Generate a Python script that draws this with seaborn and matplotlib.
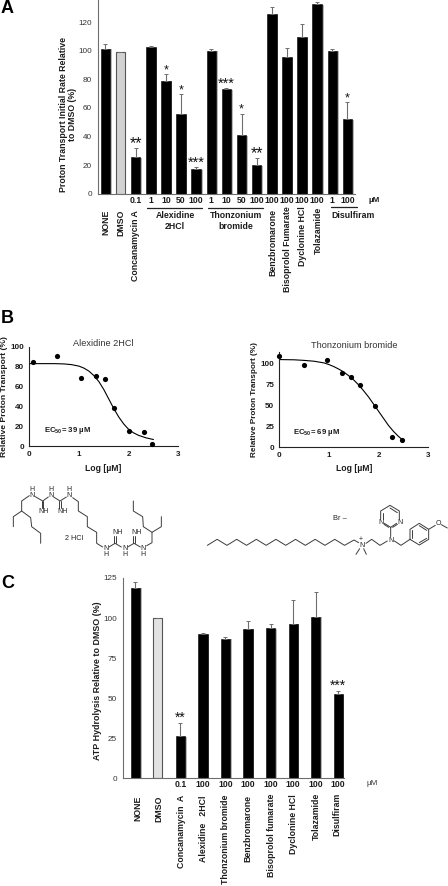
import numpy as np
import matplotlib
matplotlib.use('Agg')
import matplotlib.pyplot as plt
import matplotlib.patheffects as pe
import seaborn as sns

W, H = 448, 886

# Panel A data
a_names = ['NONE', 'DMSO', 'Conc 0.1', 'Alex 1', 'Alex 10', 'Alex 50', 'Alex 100', 'Thon 1', 'Thon 10',
           'Thon 50', 'Thon 100', 'Benz 100', 'Biso 100', 'Dycl 100', 'Tola 100', 'Disu 1', 'Disu 100']
a_values = [101.5, 99.5, 25.5, 102.5, 79, 55.5, 17, 100, 73.3, 41, 20, 125.5, 95.5, 109.5, 132.5, 100, 52]
a_tops = [105, 99.5, 32, 103.5, 83.5, 69.5, 18.5, 101, 73.7, 56, 25, 131, 102, 119, 134, 101, 64]
a_doses = ['', '', '0.1', '1', '10', '50', '100', '1', '10', '50', '100', '100', '100', '100', '100', '1', '100']
a_stars = ['', '', '**', '', '*', '*', '***', '', '***', '*', '**', '', '', '', '', '', '*']
a_yticks = [0, 20, 40, 60, 80, 100, 120]

# Panel B data
alex_x = [0.07, 0.56, 1.04, 1.34, 1.52, 1.7, 2.0, 2.3, 2.48]
alex_y = [84.5, 91, 68.5, 70.5, 68, 38, 15, 14.5, 2.5]
alex_fit_x = [0.0, 0.3, 0.5, 0.7, 0.85, 1.0, 1.1, 1.2, 1.3, 1.4, 1.5, 1.6, 1.7, 1.8, 1.9, 2.0, 2.1, 2.2, 2.35, 2.5]
alex_fit_y = [83, 83, 83, 82.7, 82, 80.5, 78.5, 75.5, 71, 65, 57, 47.5, 38, 29.5, 22.5, 17, 13.5, 11, 8.5, 6.8]
thon_x = [0.0, 0.49, 0.97, 1.26, 1.45, 1.63, 1.92, 2.27, 2.47]
thon_y = [109, 99, 105, 88.5, 84, 75, 49.5, 12, 9]
thon_fit_x = [0.0, 0.3, 0.5, 0.7, 0.9, 1.0, 1.1, 1.2, 1.3, 1.4, 1.5, 1.6, 1.7, 1.8, 1.9, 2.0, 2.1, 2.2, 2.3, 2.4, 2.5]
thon_fit_y = [105, 104.7, 104, 103, 101, 99, 96.5, 93.5, 90, 85.5, 80.5, 74.5, 67.5, 60, 51.5, 43, 34.5, 26, 19, 13, 8]

# Panel C data
c_names = ['NONE', 'DMSO', 'Concanamycin  A', 'Alexidine  2HCl', 'Thonzonium bromide', 'Benzbromarone',
           'Bisoprolol fumarate', 'Dyclonine HCl', 'Tolazamide', 'Disulfiram']
c_values = [119, 100, 26.2, 89.8, 87, 93.4, 93.6, 96.5, 100.9, 52.4]
c_tops = [122.5, 100, 34.5, 90.7, 88, 98, 96, 111, 116.5, 54.3]
c_doses = ['', '', '0.1', '100', '100', '100', '100', '100', '100', '100']
c_stars = ['', '', '**', '', '', '', '', '', '', '***']
c_yticks = [0, 25, 50, 75, 100, 125]

sns.set_theme(style='white')
plt.rcParams['font.family'] = ['Liberation Sans', 'DejaVu Sans']
plt.rcParams['mathtext.fontset'] = 'custom'
plt.rcParams['mathtext.bf'] = 'Liberation Sans:bold'

DARK = '#333333'
GRAY = '#6e6e6e'
BOLD = dict(fontweight='bold', color='#1c1c1c')

fig = plt.figure(figsize=(W / 100, H / 100), dpi=100)


def px_axes(left, top, right, bottom):
    return fig.add_axes([left / W, 1 - bottom / H, (right - left) / W, (bottom - top) / H])


# overlay in pixel coordinates for the labels and drawings round the plots
ov = fig.add_axes([0, 0, 1, 1], zorder=5)
ov.set_xlim(0, W)
ov.set_ylim(H, 0)
ov.axis('off')
ov.patch.set_alpha(0)


def bars(ax, names, values, tops, doses, stars, yticks, width, dmso_color, star_off, star_sizes):
    colors = ['black'] * len(names)
    colors[1] = dmso_color
    sns.barplot(x=names, y=values, hue=names, palette=colors, legend=False, width=width, saturation=1,
                edgecolor='black', linewidth=0.4, ax=ax)
    ax.patches[1].set_edgecolor('#555555')
    ax.patches[1].set_linewidth(0.8)
    for i, p in enumerate(ax.patches):
        if i != 1:
            p.set_path_effects([pe.SimplePatchShadow(offset=(1.2, -0.4), shadow_rgbFace='#999999', alpha=0.7),
                                pe.Normal()])
    up = np.array(tops) - np.array(values)
    ax.errorbar(range(len(names)), values, yerr=[np.zeros(len(up)), up], fmt='none', ecolor=GRAY, elinewidth=0.8,
                capsize=1.4, capthick=0.7, zorder=1)
    for i, s in enumerate(stars):
        if s:
            ax.text(i, tops[i] + star_off, s, ha='center', va='center', fontsize=star_sizes.get(s, 7),
                    color='#111111', clip_on=False)
    ax.set_xticks(range(len(names)))
    ax.set_xticklabels(doses, fontsize=6.2, fontweight='bold', color='#1c1c1c')
    ax.set_yticks(yticks)
    ax.tick_params(axis='y', length=2, width=0.6, color=GRAY, labelsize=5.9, labelcolor=DARK, pad=2)
    ax.tick_params(axis='x', length=0, pad=1.5)
    sns.despine(ax=ax)
    for s in ('left', 'bottom'):
        ax.spines[s].set_color(GRAY)
        ax.spines[s].set_linewidth(0.8)
    ax.set_xlabel('')
    ax.set_ylabel('')


# Panel A
ax_a = px_axes(97.8, 0, 355, 193.7)
bars(ax_a, a_names, a_values, a_tops, a_doses, a_stars, a_yticks, 0.63, '#d2d2d2', 3.0,
     {'*': 9, '**': 11.5, '***': 10.5})
ax_a.set_xlim(-0.5, 16.5)
ax_a.set_ylim(0, 135.6)

ov.text(1, 13, 'A', fontsize=13, fontweight='bold', ha='left', va='baseline', color='black')
ov.text(68, 114, 'Proton Transport Initial Rate Relative\nto DMSO (%)', rotation=90, ha='center', va='center',
        fontsize=6.35, linespacing=1.1, **BOLD)
ov.text(374, 200.5, 'µM', fontsize=5.8, ha='center', va='center', **BOLD)
for x, top, label in [(106, 210, 'NONE'), (121, 210, 'DMSO'), (136, 210, 'Concanamycin A'),
                      (272.7, 208.5, 'Benzbromarone'), (287.3, 206.5, 'Bisoprolol Fumarate'),
                      (302.7, 206.5, 'Dyclonine HCl'), (318, 207, 'Tolazamide')]:
    ov.text(x, top, label, rotation=90, ha='center', va='top', fontsize=6.3, **BOLD)
for x0, x1, y in [(147, 202, 208.3), (208, 263, 208.3), (331, 357, 207)]:
    ov.plot([x0, x1], [y, y], color='#222222', lw=0.9)
for x, y, label in [(175, 215.5, 'Alexidine'), (175, 226, '2HCl'), (235.5, 215.5, 'Thonzonium'),
                    (235.5, 226, 'bromide'), (352.7, 215.5, 'Disulfiram')]:
    ov.text(x, y, label, ha='center', va='center', fontsize=6.35, **BOLD)


# Panel B
def dose_axes(ax, xs, ys, fit_x, fit_y, yticks, ylim):
    sns.lineplot(x=fit_x, y=fit_y, color='black', lw=0.8, ax=ax, errorbar=None, estimator=None)
    sns.scatterplot(x=xs, y=ys, color='black', s=14, linewidth=0, ax=ax, clip_on=False, zorder=3)
    ax.set_xlim(0, 3)
    ax.set_ylim(*ylim)
    ax.set_xticks([0, 1, 2, 3])
    ax.set_yticks(yticks)
    ax.tick_params(length=2.2, width=0.8, color='#222222', labelsize=5.8, labelcolor='#1c1c1c', pad=1.5)
    for lab in ax.get_xticklabels() + ax.get_yticklabels():
        lab.set_fontweight('bold')
    sns.despine(ax=ax)
    for s in ('left', 'bottom'):
        ax.spines[s].set_color('#222222')
        ax.spines[s].set_linewidth(0.8)


ax_b1 = px_axes(29.3, 346.7, 178.3, 446.3)
dose_axes(ax_b1, alex_x, alex_y, alex_fit_x, alex_fit_y, [0, 20, 40, 60, 80, 100], (0, 100))
ax_b2 = px_axes(279.3, 351.7, 428.3, 447.3)
dose_axes(ax_b2, thon_x, thon_y, thon_fit_x, thon_fit_y, [0, 25, 50, 75, 100], (0, 114.4))

ov.text(1, 323, 'B', fontsize=13, fontweight='bold', ha='left', va='baseline', color='black')
ov.text(103.5, 344, 'Alexidine 2HCl', ha='center', va='center', fontsize=6.6, color=DARK)
ov.text(354, 345, 'Thonzonium bromide', ha='center', va='center', fontsize=6.6, color=DARK)
ov.text(4.5, 396.5, 'Relative Proton Transport (%)', rotation=90, ha='center', va='center', fontsize=6.1, **BOLD)
ov.text(255, 399, 'Relative Proton Transport (%)', rotation=90, ha='center', va='center', fontsize=5.9, **BOLD)
ov.text(103.5, 468, 'Log [µM]', ha='center', va='center', fontsize=6.2, **BOLD)
ov.text(354, 468, 'Log [µM]', ha='center', va='center', fontsize=6.2, **BOLD)
ov.text(44, 430, r'EC$_{\mathbf{50}}$= 39 µM', ha='left', va='center', fontsize=5.6, **BOLD)
ov.text(293, 432.5, r'EC$_{\mathbf{50}}$= 69 µM', ha='left', va='center', fontsize=5.6, **BOLD)


# Chemical structures, pixel positions
def bonds(points, x0, y0):
    pts = np.array(points, float) / 3
    ov.plot(pts[:, 0] + x0, pts[:, 1] + y0, color='#3c3c3c', lw=0.7, solid_joinstyle='miter')


def atom(x, y, label, x0, y0, size=5.0):
    ov.text(x / 3 + x0, y / 3 + y0, label, ha='center', va='center', fontsize=size, color='#222222')


lx, ly = 0, 475
left_lines = [
    [(40, 155), (40, 125), (65, 108), (92, 128), (95, 155), (122, 175), (122, 205)],
    [(65, 108), (65, 78), (88, 62)],
    [(106, 65), (128, 78), (145, 66)],
    [(161, 66), (180, 78), (199, 66)],
    [(218, 68), (235, 80), (235, 108), (262, 125), (262, 155), (290, 172), (290, 205), (308, 216)],
    [(327, 216), (345, 205), (364, 216)],
    [(383, 216), (402, 205), (421, 216)],
    [(440, 212), (456, 203), (456, 172), (484, 155), (484, 125)],
    [(456, 172), (430, 155), (428, 125), (400, 108), (400, 78)],
    [(126, 78), (126, 100)], [(130, 78), (130, 100)],
    [(178, 78), (178, 100)], [(182, 78), (182, 100)],
    [(343, 205), (343, 183)], [(347, 205), (347, 183)],
    [(400, 205), (400, 183)], [(404, 205), (404, 183)],
]
for line in left_lines:
    bonds(line, lx, ly)
for x, y, label in [(97, 62, 'N'), (97, 42, 'H'), (152, 62, 'N'), (152, 42, 'H'), (208, 62, 'N'), (208, 42, 'H'),
                    (132, 110, 'NH'), (188, 110, 'NH'), (318, 220, 'N'), (318, 240, 'H'), (374, 220, 'N'),
                    (374, 240, 'H'), (430, 220, 'N'), (430, 240, 'H'), (354, 173, 'NH'), (410, 173, 'NH')]:
    atom(x, y, label, lx, ly)
atom(221, 192, '2 HCl', lx, ly, size=5.2)

rx, ry = 200, 490
tail = [(22 + 29.4 * i, 166 if i % 2 == 0 else 148) for i in range(15)] + [(462, 150), (476, 158)]
right_lines = [
    tail,
    [(479, 176), (468, 193)], [(491, 176), (499, 193)],
    [(498, 160), (515, 148), (540, 166), (562, 153)],
    [(572, 140), (572, 112), (553, 100)],
    [(572, 112), (590, 100)],
    [(598, 88), (598, 63), (570, 46), (542, 63), (542, 88)],
    [(592, 68), (570, 54)], [(548, 68), (548, 86)],
    [(566, 112), (552, 103)], [(578, 112), (592, 103)],
    [(583, 153), (603, 166), (630, 148), (630, 118), (658, 100), (686, 118), (686, 148), (658, 165), (630, 148)],
    [(636, 145), (636, 121)], [(658, 107), (680, 121)], [(680, 145), (658, 158)],
    [(686, 118), (706, 106)], [(724, 104), (742, 114)],
]
for line in right_lines:
    bonds(line, rx, ry)
for x, y, label in [(486, 166, 'N'), (482, 147, '+'), (572, 150, 'N'), (542, 99, 'N'), (600, 99, 'N'),
                    (715, 100, 'O')]:
    atom(x, y, label, rx, ry)
atom(420, 86, 'Br –', rx, ry, size=5.4)

# Panel C
ax_c = px_axes(122.7, 578, 344.3, 778.3)
bars(ax_c, c_names, c_values, c_tops, c_doses, c_stars, c_yticks, 0.41, '#e2e2e2', 3.5,
     {'**': 10, '***': 10})
ax_c.set_xlim(-0.56, 9.27)
ax_c.set_ylim(0, 125)

ov.text(1, 588, 'C', fontsize=13, fontweight='bold', ha='left', va='baseline', color='black')
ov.text(98, 681, 'ATP Hydrolysis Relative to DMSO (%)', rotation=90, ha='center', va='center', fontsize=6.4, **BOLD)
ov.text(372, 783.5, 'µM', fontsize=5.8, ha='center', va='center', color=DARK)
for x, top, label in [(137.5, 796, 'NONE'), (158.5, 796, 'DMSO'), (181, 795, 'Concanamycin  A'),
                      (203, 795, 'Alexidine   2HCl'), (225, 795, 'Thonzonium bromide'), (248, 795, 'Benzbromarone'),
                      (272, 794, 'Bisoprolol fumarate'), (294, 794, 'Dyclonine HCl'), (316, 793, 'Tolazamide'),
                      (337, 793, 'Disulfiram')]:
    ov.text(x, top, label, rotation=90, ha='center', va='top', fontsize=6.3, **BOLD)

fig.savefig('out.png', dpi=100)
